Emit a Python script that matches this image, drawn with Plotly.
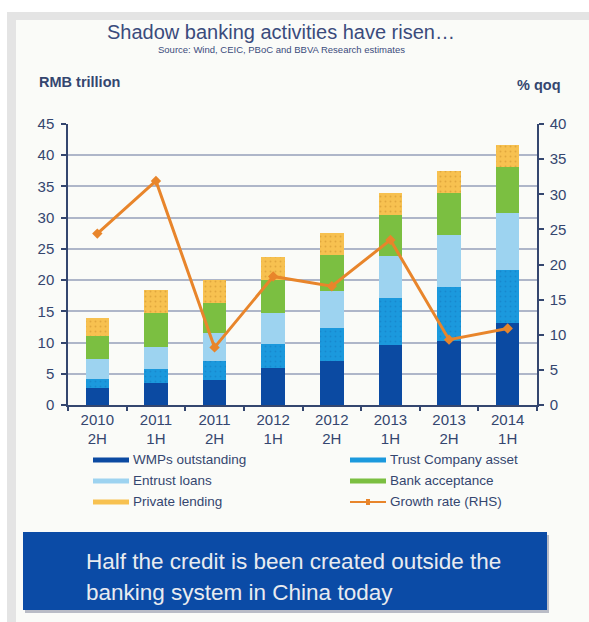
import plotly.graph_objects as go

categories = ["2010<br>2H", "2011<br>1H", "2011<br>2H", "2012<br>1H",
              "2012<br>2H", "2013<br>1H", "2013<br>2H", "2014<br>1H"]
wmps = [2.7, 3.5, 4.0, 6.0, 7.1, 9.6, 10.3, 13.2]
trust = [1.4, 2.2, 3.1, 3.8, 5.3, 7.6, 8.6, 8.5]
entrust = [3.2, 3.65, 4.5, 4.9, 5.85, 6.7, 8.35, 9.0]
bank_acc = [3.75, 5.35, 4.8, 5.3, 5.85, 6.5, 6.7, 7.4]
private = [2.85, 3.7, 3.6, 3.65, 3.5, 3.5, 3.6, 3.5]
growth = [24.4, 31.9, 8.2, 18.3, 16.9, 23.5, 9.3, 10.9]

left_ticks = list(range(0, 46, 5))
right_ticks = list(range(0, 41, 5))

NAVY = "#34466f"
FONT = "Liberation Sans"

# plot area in pixels
L, R, T, B = 68, 537, 124, 405
W, H = 589, 622


def xp(px):
    return (px - L) / (R - L)


def yp(py):
    return (B - py) / (B - T)


fig = go.Figure()

bar_specs = [
    ("WMPs outstanding", wmps, "#0b4aa2", None),
    ("Trust Company asset", trust, "#1b99dd", "#1377bd"),
    ("Entrust loans", entrust, "#9dd3f0", None),
    ("Bank acceptance", bank_acc, "#7bbf41", None),
    ("Private lending", private, "#f7c150", "#c98e2a"),
]
for name, vals, col, dot in bar_specs:
    marker = dict(color=col, line=dict(width=0))
    if dot:
        marker["pattern"] = dict(shape=".", fgcolor=dot, size=5, solidity=0.12)
    fig.add_trace(go.Bar(x=categories, y=vals, name=name, marker=marker,
                         showlegend=False, yaxis="y"))

fig.add_trace(go.Scatter(x=categories, y=growth, name="Growth rate (RHS)",
                         mode="lines+markers", yaxis="y2", showlegend=False,
                         line=dict(color="#e8852b", width=3),
                         marker=dict(symbol="diamond", size=8, color="#e8852b")))

shapes = []
annotations = []

# outer frame and panel
shapes.append(dict(type="rect", xref="paper", yref="paper", layer="below",
                   x0=xp(7), x1=xp(590), y0=yp(623), y1=yp(12),
                   fillcolor="#e4e4e4", line=dict(width=0)))
shapes.append(dict(type="rect", xref="paper", yref="paper", layer="below",
                   x0=xp(16), x1=xp(590), y0=yp(623), y1=yp(20),
                   fillcolor="#fafbf8", line=dict(width=0)))

# blue box with shadow
shapes.append(dict(type="rect", xref="paper", yref="paper", layer="above",
                   x0=xp(25), x1=xp(549), y0=yp(613), y1=yp(535),
                   fillcolor="#b9bcc6", line=dict(width=0)))
shapes.append(dict(type="rect", xref="paper", yref="paper", layer="above",
                   x0=xp(23), x1=xp(547), y0=yp(610), y1=yp(532),
                   fillcolor="#0b4ba6", line=dict(width=0)))
annotations.append(dict(xref="paper", yref="paper", x=xp(84), y=yp(561),
                        xanchor="left", yanchor="middle", showarrow=False,
                        text="Half the credit is been created outside the",
                        font=dict(family=FONT, size=22.5, color="#e9ebf0")))
annotations.append(dict(xref="paper", yref="paper", x=xp(84), y=yp(592),
                        xanchor="left", yanchor="middle", showarrow=False,
                        text="banking system in China today",
                        font=dict(family=FONT, size=22.5, color="#e9ebf0")))

# titles
annotations.append(dict(xref="paper", yref="paper", x=xp(281), y=yp(32),
                        xanchor="center", yanchor="middle", showarrow=False,
                        text="Shadow banking activities have risen…",
                        font=dict(family=FONT, size=20, color="#3a4b7c")))
annotations.append(dict(xref="paper", yref="paper", x=xp(281), y=yp(50),
                        xanchor="center", yanchor="middle", showarrow=False,
                        text="Source: Wind, CEIC, PBoC and BBVA Research estimates",
                        font=dict(family=FONT, size=9.5, color="#3a4b7c")))
annotations.append(dict(xref="paper", yref="paper", x=xp(37), y=yp(82),
                        xanchor="left", yanchor="middle", showarrow=False,
                        text="<b>RMB trillion</b>",
                        font=dict(family=FONT, size=14.5, color=NAVY)))
annotations.append(dict(xref="paper", yref="paper", x=xp(563), y=yp(85),
                        xanchor="right", yanchor="middle", showarrow=False,
                        text="<b>% qoq</b>",
                        font=dict(family=FONT, size=14.5, color=NAVY)))

# custom legend
legend_items = [
    ("WMPs outstanding", "#0b4aa2", 93, 460, False),
    ("Trust Company asset", "#1b99dd", 350, 460, False),
    ("Entrust loans", "#9dd3f0", 93, 481, False),
    ("Bank acceptance", "#7bbf41", 350, 481, False),
    ("Private lending", "#f7c150", 93, 502, False),
    ("Growth rate (RHS)", "#e8852b", 350, 502, True),
]
for name, col, x0, yc, is_line in legend_items:
    if is_line:
        shapes.append(dict(type="line", xref="paper", yref="paper",
                           x0=xp(x0), x1=xp(x0 + 36), y0=yp(yc), y1=yp(yc),
                           line=dict(color=col, width=2)))
        shapes.append(dict(type="rect", xref="paper", yref="paper",
                           x0=xp(x0 + 16), x1=xp(x0 + 20), y0=yp(yc + 3), y1=yp(yc - 3),
                           fillcolor=col, line=dict(width=0)))
    else:
        shapes.append(dict(type="rect", xref="paper", yref="paper",
                           x0=xp(x0), x1=xp(x0 + 36), y0=yp(yc + 2.5), y1=yp(yc - 2.5),
                           fillcolor=col, line=dict(width=0)))
    annotations.append(dict(xref="paper", yref="paper", x=xp(x0 + 38), y=yp(yc - 0.5),
                            xanchor="left", yanchor="middle", showarrow=False,
                            text=name,
                            font=dict(family=FONT, size=13.5, color=NAVY)))

fig.update_layout(
    width=W, height=H,
    margin=dict(l=L, r=W - R, t=T, b=H - B, pad=0),
    paper_bgcolor="white",
    plot_bgcolor="rgba(0,0,0,0)",
    barmode="stack",
    bargap=0.6,
    showlegend=False,
    shapes=shapes,
    annotations=annotations,
    font=dict(family=FONT, color=NAVY),
    xaxis=dict(
        type="category",
        tickson="boundaries",
        ticks="outside", ticklen=4, tickwidth=1.5, tickcolor=NAVY,
        showline=True, linecolor=NAVY, linewidth=1.5,
        showgrid=False,
        tickfont=dict(family=FONT, size=15, color=NAVY),
    ),
    yaxis=dict(
        range=[0, 45], tickvals=left_ticks,
        ticks="outside", ticklen=5, tickwidth=1.5, tickcolor=NAVY,
        showline=True, linecolor=NAVY, linewidth=1.5,
        showgrid=True, gridcolor="#aeb6c9", gridwidth=1.5,
        zeroline=False, ticklabelstandoff=4,
        tickfont=dict(family=FONT, size=15, color=NAVY),
    ),
    yaxis2=dict(
        range=[0, 40], tickvals=right_ticks,
        overlaying="y", side="right",
        ticks="outside", ticklen=5, tickwidth=1.5, tickcolor=NAVY,
        showline=True, linecolor=NAVY, linewidth=1.5,
        showgrid=False, zeroline=False, ticklabelstandoff=3,
        tickfont=dict(family=FONT, size=15, color=NAVY),
    ),
)

fig.write_html("out.html",
               config={"displayModeBar": False},
               post_script="document.body.style.margin='0';document.body.style.overflow='hidden';")
